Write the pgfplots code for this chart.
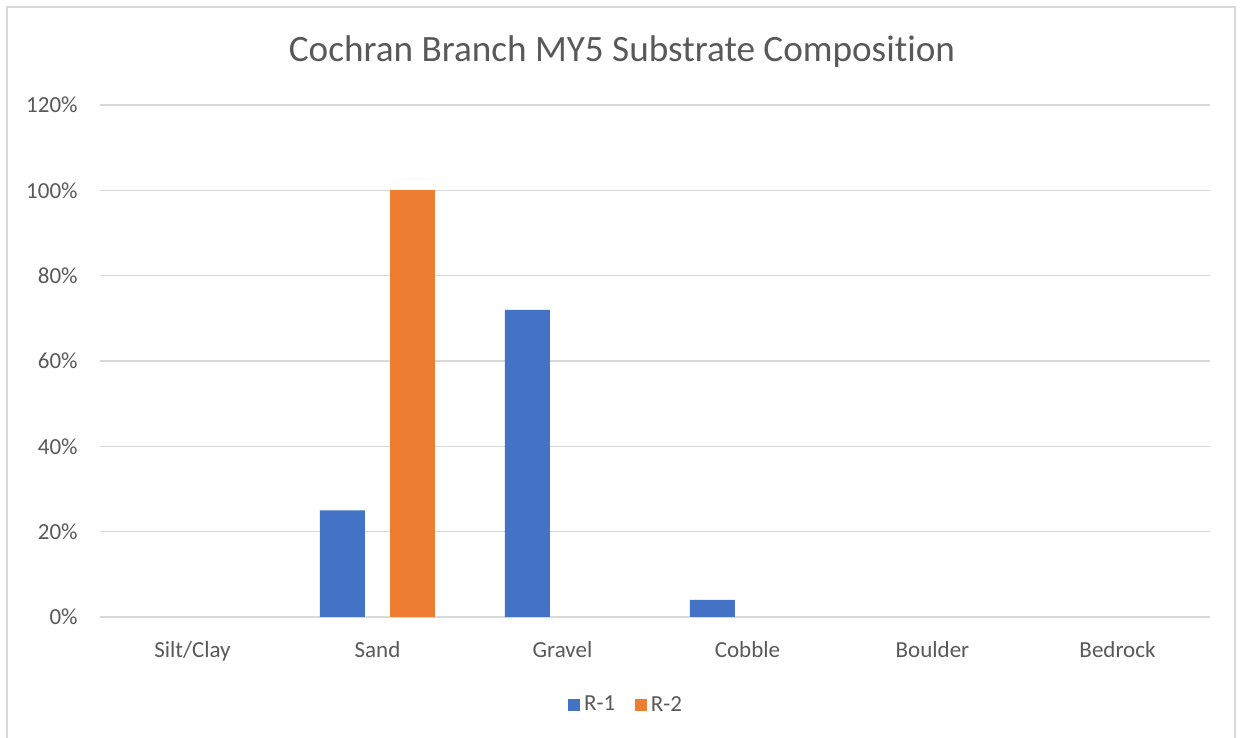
\documentclass[border=0pt]{standalone}
\usepackage{fontspec}
\setmainfont{Carlito}[Ligatures=NoCommon]
\usepackage{pgfplots}
\pgfplotsset{compat=1.18}
\definecolor{blueR}{HTML}{4472C4}
\definecolor{orangeR}{HTML}{ED7D31}
\definecolor{gridc}{HTML}{D9D9D9}
\definecolor{txt}{HTML}{595959}
\begin{document}
\begin{tikzpicture}
\useasboundingbox (-50pt,-60.5pt) rectangle (571.5pt,308.5pt);
\fill[white] (-50pt,-60.5pt) rectangle (571.5pt,308.5pt);
\draw[gridc, line width=0.8pt] (-46.5pt,-62pt) -- (-46.5pt,305pt) -- (567.5pt,305pt) -- (567.5pt,-62pt);
\node[anchor=base, font=\fontsize{18.6}{22}\selectfont, text=txt] at (261pt,277.5pt) {Cochran Branch MY5 Substrate Composition};
\begin{axis}[
  at={(0pt,0pt)}, anchor=south west,
  scale only axis, width=555pt, height=256pt,
  xmin=-0.5, xmax=5.5, ymin=0, ymax=120,
  ytick={0,20,...,120},
  yticklabel={\pgfmathprintnumber{\tick}\%},
  /pgf/number format/assume math mode=true,
  xtick={0,1,2,3,4,5},
  xticklabels={Silt/Clay,Sand,Gravel,Cobble,Boulder,Bedrock},
  ybar, bar width=22.5pt,
  axis line style={draw=none},
  major tick style={draw=none},
  ymajorgrids, grid style={gridc, line width=0.6pt},
  yticklabel style={font=\fontsize{11.5}{14}\selectfont, text=txt, anchor=east, inner sep=0pt, xshift=-11pt},
  xticklabel style={font=\fontsize{11.5}{14}\selectfont, text=txt, anchor=base, inner sep=0pt, yshift=-15.8pt},
  legend style={at={(0.475,-0.172)}, anchor=center, draw=none, fill=none,
    font=\fontsize{11.5}{14}\selectfont, text=txt,
    legend columns=2, /tikz/every even column/.append style={column sep=8pt},
    /tikz/every odd column/.append style={column sep=0pt}},
]
\addplot[fill=blueR, draw=none, bar shift=-17.5pt,
  legend image code/.code={\fill[blueR] (0pt,-2.9pt) rectangle (5.8pt,2.9pt);}]
  coordinates {(1,25) (2,72) (3,4)};
\addplot[fill=orangeR, draw=none, bar shift=17.5pt,
  legend image code/.code={\fill[orangeR] (0pt,-2.9pt) rectangle (5.8pt,2.9pt);}]
  coordinates {(1,100)};
\legend{R-1,R-2}
\end{axis}
\end{tikzpicture}
\end{document}
